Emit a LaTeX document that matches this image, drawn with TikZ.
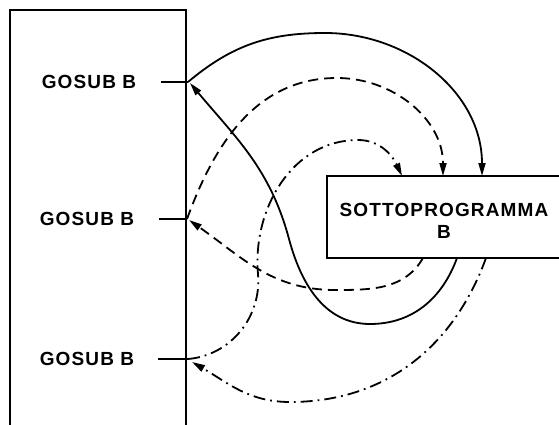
\documentclass[tikz,border=0pt]{standalone}
\usepackage{fontspec}
\newfontfamily\gosubfont[LetterSpace=6]{Liberation Sans}
\usetikzlibrary{arrows.meta}

\begin{document}
\begin{tikzpicture}[x=1pt,y=1pt,
  lbl/.style={font=\gosubfont\bfseries\fontsize{19}{22}\selectfont,align=center,inner sep=0pt},
  frame/.style={line width=2.6pt},
  tick/.style={line width=2.2pt},
  ar/.style={line width=1.8pt,-{Triangle[length=13pt,width=7pt]}},
  dsh/.style={dash pattern=on 10pt off 6pt},
  dshdot/.style={dash pattern=on 12pt off 5pt on 1.8pt off 5pt}]
\useasboundingbox (0,0) rectangle (559,424);
\clip (0,0) rectangle (559,424);
% main program
\draw[frame] (10,-5) |- (186,414) -- (186,-5);
\node[lbl] (g1) at (89,342) {GOSUB B};
\node[lbl] (g2) at (87,205) {GOSUB B};
\node[lbl] (g3) at (87,65)  {GOSUB B};
\coordinate (c1) at (188,342);
\coordinate (c2) at (187,205);
\coordinate (c3) at (188,65);
\draw[tick] (161,342) -- (c1);
\draw[tick] (159,205) -- (c2);
\draw[tick] (158,65) -- (c3);
% subroutine
\draw[frame] (570,248) -| (327,166) -- (570,166);
\node[lbl] (sub) at (444,203) {SOTTOPROGRAMMA\\B};
\coordinate (in1) at (482,248);
\coordinate (in2) at (443,248);
\coordinate (in3) at (402,248);
\coordinate (out1) at (457,166);
\coordinate (out2) at (423,166);
\coordinate (out3) at (486,166);
% calls
\draw[ar] (c1) to[out=40,in=180] (325,391) to[out=0,in=90] (in1);
\draw[ar,dsh] (c2) to[out=70,in=180] (337,346) to[out=0,in=90] (in2);
\draw[ar,dshdot] (c3) to[out=5,in=-85] (258,150) to[out=95,in=180] (358,284) to[out=0,in=115] (in3);
% returns
\draw[ar] (out1) to[out=-110,in=0] (370,100) to[out=180,in=-75] (289,185) to[out=105,in=-50] (190,341);
\draw[ar,dsh] (out2) to[out=-120,in=0] (335,134) to[out=180,in=-35] (189,204);
\draw[ar,dshdot] (out3) to[out=-110,in=0] (290,22) to[out=180,in=-30] (192,62);
\end{tikzpicture}
\end{document}
